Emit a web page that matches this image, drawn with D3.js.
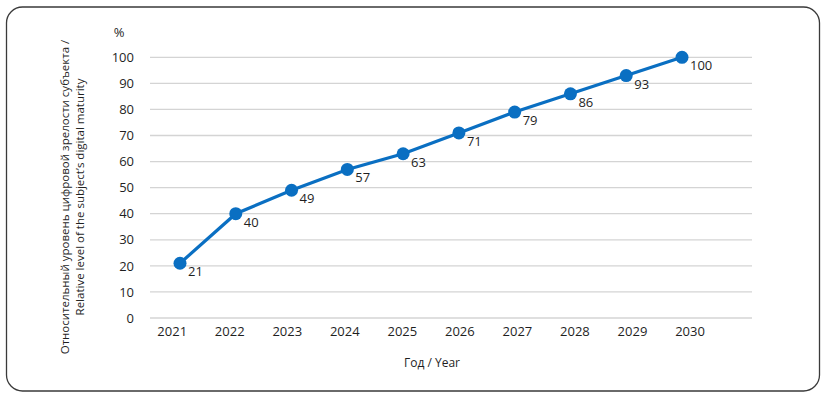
<!DOCTYPE html>
<html>
<head>
<meta charset="utf-8">
<script src="https://cdn.jsdelivr.net/npm/d3@7"></script>
<style>
  body { margin: 0; background: #fff; }
  text { font-family: "Open Sans", sans-serif; fill: #1f1f1f; }
</style>
</head>
<body>
<div id="chart"></div>
<script>
var years = ["2021", "2022", "2023", "2024", "2025", "2026", "2027", "2028", "2029", "2030"];
var values = [21, 40, 49, 57, 63, 71, 79, 86, 93, 100];
var yTicks = [0, 10, 20, 30, 40, 50, 60, 70, 80, 90, 100];

var svgWidth = 828;
var svgHeight = 397;

var svg = d3.select("#chart")
  .append("svg")
  .attr("width", svgWidth)
  .attr("height", svgHeight);

// frame
svg.append("rect")
  .attr("x", 6.5)
  .attr("y", 7)
  .attr("width", 813)
  .attr("height", 384)
  .attr("rx", 16)
  .attr("fill", "none")
  .attr("stroke", "#3a3a3a")
  .attr("stroke-width", 1.3);

// scales
var yScale = d3.scaleLinear().domain([0, 100]).range([318, 57.3]);
var xScale = d3.scalePoint().domain(years).range([180, 682]);
var xLabel = d3.scalePoint().domain(years).range([171.7, 689.5]);

// gridlines
svg.append("g")
  .selectAll("line")
  .data(yTicks)
  .enter()
  .append("line")
  .attr("x1", 150)
  .attr("x2", 752)
  .attr("y1", d => yScale(d))
  .attr("y2", d => yScale(d))
  .attr("stroke", "#d4d4d4")
  .attr("stroke-width", 1.3);

// y axis labels
var leftAxis = d3.axisLeft(yScale).tickValues(yTicks).tickSize(0).tickPadding(0);
var yAxisG = svg.append("g")
  .attr("transform", "translate(134,0)")
  .call(leftAxis);
yAxisG.select(".domain").remove();
yAxisG.selectAll("text")
  .attr("font-size", "13px")
  .attr("font-family", "Open Sans, sans-serif")
  .attr("fill", "#1f1f1f");

// x axis labels
var bottomAxis = d3.axisBottom(xLabel).tickSize(0).tickPadding(0);
var xAxisG = svg.append("g")
  .attr("transform", "translate(0,327)")
  .call(bottomAxis);
xAxisG.select(".domain").remove();
xAxisG.selectAll("text")
  .attr("font-size", "13px")
  .attr("font-family", "Open Sans, sans-serif")
  .attr("fill", "#1f1f1f");

// line
var line = d3.line()
  .x((d, i) => xScale(years[i]))
  .y(d => yScale(d));

svg.append("path")
  .datum(values)
  .attr("d", line)
  .attr("fill", "none")
  .attr("stroke", "#0a6fc2")
  .attr("stroke-width", 3.2);

svg.append("g")
  .selectAll("circle")
  .data(values)
  .enter()
  .append("circle")
  .attr("cx", (d, i) => xScale(years[i]))
  .attr("cy", d => yScale(d))
  .attr("r", 6.5)
  .attr("fill", "#0a6fc2");

// data labels
svg.append("g")
  .selectAll("text")
  .data(values)
  .enter()
  .append("text")
  .attr("x", (d, i) => xScale(years[i]) + 8)
  .attr("y", d => yScale(d) + 8.5)
  .attr("dy", "0.35em")
  .attr("font-size", "13px")
  .text(d => d);

// unit
svg.append("text")
  .attr("x", 119)
  .attr("y", 32)
  .attr("dy", "0.35em")
  .attr("text-anchor", "middle")
  .attr("font-size", "13px")
  .text("%");

// axis titles
svg.append("text")
  .attr("x", 432)
  .attr("y", 363)
  .attr("dy", "0.35em")
  .attr("text-anchor", "middle")
  .attr("font-size", "12px")
  .text("Год / Year");

var yTitle = svg.append("text")
  .attr("transform", "translate(65,197) rotate(-90)")
  .attr("text-anchor", "middle")
  .attr("font-size", "11.5px");
yTitle.append("tspan")
  .attr("x", 0)
  .attr("y", 0)
  .attr("dy", "0.35em")
  .text("Относительный уровень цифровой зрелости субъекта /");
yTitle.append("tspan")
  .attr("x", 0)
  .attr("y", 15)
  .attr("dy", "0.35em")
  .text("Relative level of the subject’s digital maturity");
</script>
</body>
</html>
